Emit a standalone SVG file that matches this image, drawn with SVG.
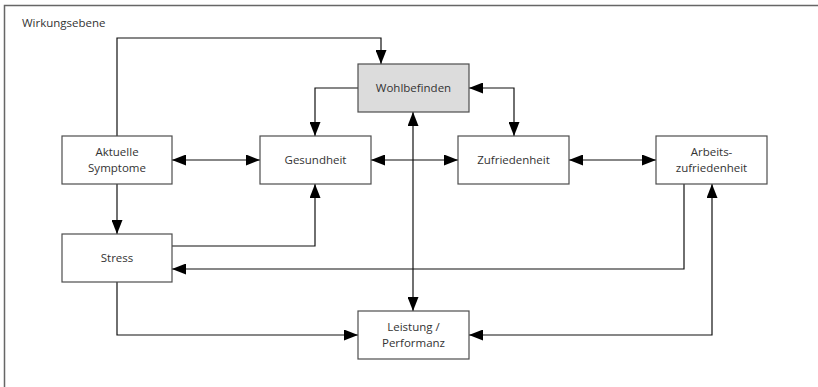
<svg xmlns="http://www.w3.org/2000/svg" width="818" height="387" viewBox="0 0 818 387">
  <style>
    .box { fill: #ffffff; stroke: #4d4d4d; stroke-width: 1.2; }
    .box.hl { fill: #dcdcdc; }
    .lbl { font-family: "Open Sans", "Noto Sans", "DejaVu Sans", sans-serif; font-size: 11.5px; fill: #333333; text-anchor: middle; }
    .title { font-family: "Open Sans", "Noto Sans", "DejaVu Sans", sans-serif; font-size: 11.5px; fill: #333333; }
    .link { fill: none; stroke: #111111; stroke-width: 1.2; }
    .frame { fill: none; stroke: #666666; stroke-width: 1.5; }
  </style>
  <defs>
    <marker id="arrow" viewBox="0 0 14 11" refX="14" refY="5.5" markerWidth="14" markerHeight="11" markerUnits="userSpaceOnUse" orient="auto-start-reverse">
      <path d="M0,0 L14,5.5 L0,11 Z" fill="#000000"/>
    </marker>
  </defs>

  <rect width="818" height="387" fill="#ffffff"/>

  <!-- level frame -->
  <g id="frame">
    <polyline class="frame" points="4.5,387 4.5,5.5 818,5.5"/>
    <text class="title" x="22" y="27">Wirkungsebene</text>
  </g>

  <!-- connectors -->
  <g id="connectors">
    <path class="link" d="M117,136 V38 H381 V64" marker-end="url(#arrow)"/>
    <path class="link" d="M358,88 H315 V136" marker-end="url(#arrow)"/>
    <path class="link" d="M469,88 H514 V136" marker-start="url(#arrow)" marker-end="url(#arrow)"/>
    <path class="link" d="M172,160 H260" marker-start="url(#arrow)" marker-end="url(#arrow)"/>
    <path class="link" d="M371,160 H458" marker-start="url(#arrow)" marker-end="url(#arrow)"/>
    <path class="link" d="M569,160 H656" marker-start="url(#arrow)" marker-end="url(#arrow)"/>
    <path class="link" d="M413,112 V311" marker-start="url(#arrow)" marker-end="url(#arrow)"/>
    <path class="link" d="M117,184 V234" marker-end="url(#arrow)"/>
    <path class="link" d="M172,246 H315 V184" marker-end="url(#arrow)"/>
    <path class="link" d="M684,184 V269 H172" marker-end="url(#arrow)"/>
    <path class="link" d="M117,282 V335 H358" marker-end="url(#arrow)"/>
    <path class="link" d="M469,335 H712 V184" marker-start="url(#arrow)" marker-end="url(#arrow)"/>
  </g>

  <!-- nodes -->
  <g id="aktuelle-symptome">
    <rect class="box" x="62" y="136" width="110" height="48"/>
    <text class="lbl" x="117" y="156">Aktuelle</text>
    <text class="lbl" x="117" y="172">Symptome</text>
  </g>
  <g id="gesundheit">
    <rect class="box" x="260" y="136" width="111" height="48"/>
    <text class="lbl" x="315.5" y="164">Gesundheit</text>
  </g>
  <g id="wohlbefinden">
    <rect class="box hl" x="358" y="64" width="111" height="48"/>
    <text class="lbl" x="413.5" y="92">Wohlbefinden</text>
  </g>
  <g id="zufriedenheit">
    <rect class="box" x="458" y="136" width="111" height="48"/>
    <text class="lbl" x="513.5" y="164">Zufriedenheit</text>
  </g>
  <g id="arbeitszufriedenheit">
    <rect class="box" x="656" y="136" width="111" height="48"/>
    <text class="lbl" x="711.5" y="156">Arbeits-</text>
    <text class="lbl" x="711.5" y="172">zufriedenheit</text>
  </g>
  <g id="stress">
    <rect class="box" x="62" y="234" width="110" height="48"/>
    <text class="lbl" x="117" y="262">Stress</text>
  </g>
  <g id="leistung">
    <rect class="box" x="358" y="311" width="111" height="48"/>
    <text class="lbl" x="413.5" y="331">Leistung /</text>
    <text class="lbl" x="413.5" y="347">Performanz</text>
  </g>
</svg>
